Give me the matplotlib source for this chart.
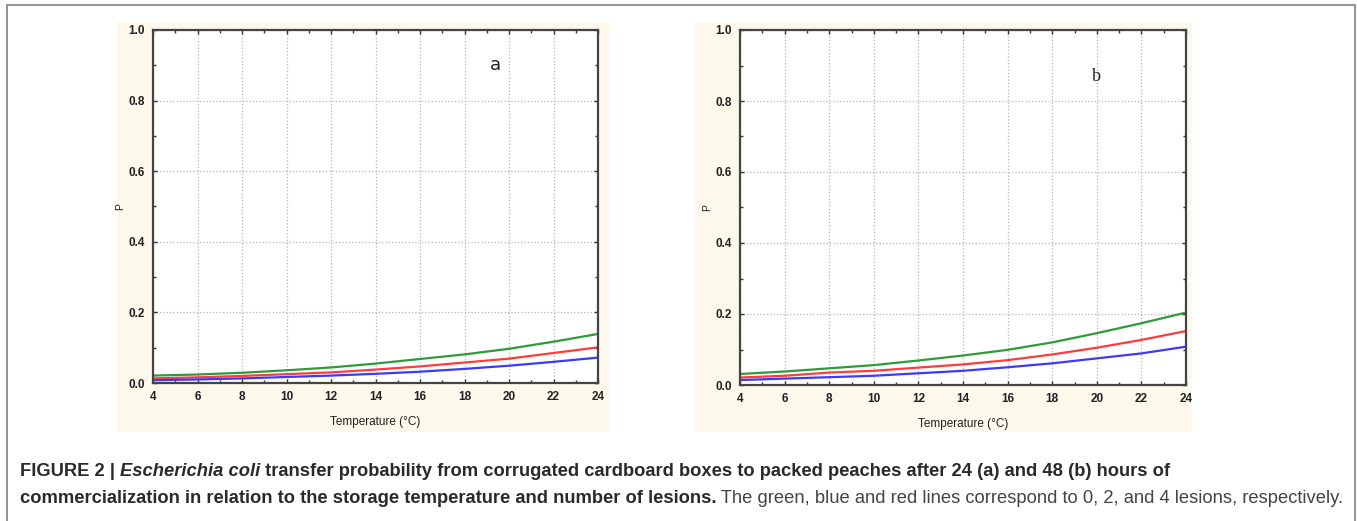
import numpy as np
import matplotlib
matplotlib.use("Agg")
import matplotlib.pyplot as plt
from matplotlib.patches import Rectangle
from matplotlib.ticker import MultipleLocator, FormatStrFormatter
from matplotlib import font_manager

# temperatura (°C) y probabilidades
temp = [4, 6, 8, 10, 12, 14, 16, 18, 20, 22, 24]

# panel a (24 h)
a_green = [0.021, 0.024, 0.029, 0.036, 0.044, 0.055, 0.068, 0.081, 0.097, 0.117, 0.139]
a_red = [0.013, 0.016, 0.020, 0.025, 0.030, 0.038, 0.047, 0.058, 0.069, 0.085, 0.101]
a_blue = [0.008, 0.010, 0.013, 0.017, 0.021, 0.026, 0.032, 0.040, 0.049, 0.060, 0.072]

# panel b (48 h)
b_green = [0.031, 0.038, 0.047, 0.056, 0.069, 0.083, 0.099, 0.120, 0.146, 0.174, 0.204]
b_red = [0.021, 0.026, 0.035, 0.040, 0.049, 0.058, 0.070, 0.086, 0.105, 0.127, 0.152]
b_blue = [0.014, 0.018, 0.022, 0.026, 0.033, 0.040, 0.050, 0.061, 0.075, 0.089, 0.108]


def has_font(name):
    try:
        font_manager.findfont(name, fallback_to_default=False)
        return True
    except Exception:
        return False


cap_font = "Liberation Sans Narrow" if has_font("Liberation Sans Narrow") else "Liberation Sans"

W, H = 1357, 521
fig = plt.figure(figsize=(W / 100, H / 100), dpi=100)
fig.patch.set_facecolor("white")


def px(x0, y0, x1, y1):
    # caja en pixeles -> coordenadas de figura
    return [x0 / W, 1 - y1 / H, (x1 - x0) / W, (y1 - y0) / H]


# borde exterior
fig.patches.append(Rectangle((7 / W, -0.05), (1355 - 7) / W, 1.05 - 5 / H,
                             transform=fig.transFigure, fill=False,
                             edgecolor="#8a8a8a", lw=1.3, zorder=-2))

# fondo crema de cada panel
for box in [(117, 22, 610, 432), (695, 22, 1192, 432)]:
    r = px(*box)
    fig.patches.append(Rectangle((r[0], r[1]), r[2], r[3], transform=fig.transFigure,
                                 facecolor="#fdf8ec", edgecolor="none", zorder=-1))

panels = [
    (px(153, 30, 598, 383), a_green, a_red, a_blue, "a", 19.4, 0.90, "DejaVu Sans"),
    (px(740, 30, 1186, 385), b_green, b_red, b_blue, "b", 20.0, 0.87, "Liberation Serif"),
]

for rect, g, r, b, lab, lx, ly, lfont in panels:
    ax = fig.add_axes(rect)
    ax.set_facecolor("white")
    ax.plot(temp, g, color="#2f9a3c", lw=1.6)
    ax.plot(temp, r, color="#ff3b3b", lw=1.6)
    ax.plot(temp, b, color="#3a3aff", lw=1.6)
    ax.set_xlim(4, 24)
    ax.set_ylim(0, 1.0)
    ax.xaxis.set_major_locator(MultipleLocator(2))
    ax.xaxis.set_minor_locator(MultipleLocator(1))
    ax.yaxis.set_major_locator(MultipleLocator(0.2))
    ax.yaxis.set_minor_locator(MultipleLocator(0.1))
    ax.yaxis.set_major_formatter(FormatStrFormatter("%.1f"))
    ax.grid(True, which="major", color="#b5b5b5", ls=":", lw=0.9)
    ax.tick_params(which="both", direction="in", top=True, right=True,
                   color="#333333", labelsize=8.5, labelcolor="#222222")
    ax.tick_params(which="major", length=3, width=1, pad=6)
    ax.tick_params(which="minor", length=2, width=1)
    for lbl in ax.get_xticklabels() + ax.get_yticklabels():
        lbl.set_fontweight("bold")
        lbl.set_family("Liberation Sans")
    for s in ax.spines.values():
        s.set_color("#444444")
        s.set_linewidth(1.6)
    ax.set_xlabel("Temperature (°C)", fontsize=8.5, labelpad=9, color="#222222",
                  family="Liberation Sans")
    ax.set_ylabel("P", fontsize=7.5, labelpad=2, color="#222222", family="Liberation Sans")
    ax.text(lx, ly, lab, fontsize=13, family=lfont, color="#222222", ha="center", va="center")

# pie de figura con partes en negrita y normal
fig.canvas.draw()
renderer = fig.canvas.get_renderer()
lines = [
    (476, [("FIGURE 2 | ", "bold", "normal"), ("Escherichia coli", "bold", "italic"),
           (" transfer probability from corrugated cardboard boxes to packed peaches after 24 (a) and 48 (b) hours of",
            "bold", "normal")]),
    (503, [("commercialization in relation to the storage temperature and number of lesions.", "bold", "normal"),
           (" The green, blue and red lines correspond to 0, 2, and 4 lesions, respectively.", "normal", "normal")]),
]

# ajustar tamaño para que la segunda linea ocupe el mismo ancho
base = 10
tot = 0
for txt, wt, st in lines[1][1]:
    t = fig.text(0, 0, txt, fontsize=base, fontweight=wt, fontstyle=st, family=cap_font)
    tot += t.get_window_extent(renderer).width
    t.remove()
fs = base * 1325 / tot

for ypix, parts in lines:
    x = 20
    for txt, wt, st in parts:
        t = fig.text(x / W, 1 - ypix / H, txt, fontsize=fs, fontweight=wt, fontstyle=st,
                     family=cap_font, color="#2a2a2a" if wt == "bold" else "#444444",
                     va="baseline", ha="left")
        bb = t.get_window_extent(renderer)
        x += bb.width

fig.savefig("out.png", dpi=100)
